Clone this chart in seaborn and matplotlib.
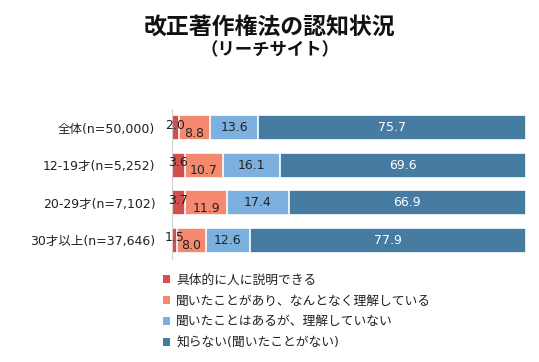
import matplotlib
matplotlib.use("Agg")
import matplotlib.pyplot as plt
import seaborn as sns
import numpy as np
import pandas as pd
from matplotlib.patches import Patch

# data
groups = ["全体(n=50,000)", "12-19才(n=5,252)", "20-29才(n=7,102)", "30才以上(n=37,646)"]
series = ["具体的に人に説明できる", "聞いたことがあり、なんとなく理解している",
          "聞いたことはあるが、理解していない", "知らない(聞いたことがない)"]
explain = [2.0, 3.6, 3.7, 1.5]
vaguely = [8.8, 10.7, 11.9, 8.0]
heard = [13.6, 16.1, 17.4, 12.6]
unknown = [75.7, 69.6, 66.9, 77.9]

colors = ["#D44E4E", "#F4896F", "#7CB0DF", "#467BA2"]

sns.set_theme(style="white")
# Verdana-like latin glyphs, CJK fallback
plt.rcParams["font.family"] = ["DejaVu Sans", "Noto Sans CJK JP"]

df = pd.DataFrame({"group": groups, series[0]: explain, series[1]: vaguely,
                   series[2]: heard, series[3]: unknown})
vals = df[series].to_numpy()
cum = vals.cumsum(axis=1)

fig = plt.figure(figsize=(5.39, 3.62), dpi=100)
ax = fig.add_axes([0.319, 0.2845, 0.657, 0.414])

# stacked bars: draw cumulative totals from the back
for k in range(len(series) - 1, -1, -1):
    d = pd.DataFrame({"group": groups, "v": cum[:, k]})
    sns.barplot(data=d, x="v", y="group", orient="h", color=colors[k],
                saturation=1, width=0.67, edgecolor="white", linewidth=1.2, ax=ax)

# value labels
for i in range(len(groups)):
    for k in range(len(series)):
        start = cum[i, k] - vals[i, k]
        xc = start + vals[i, k] / 2
        dy = 0
        if k == 0:
            dy = 2.0
        elif k == 1:
            dy = -4.0
        ax.annotate(f"{vals[i, k]:.1f}", (xc, i), xytext=(0, dy), textcoords="offset points",
                    ha="center", va="center", fontsize=9,
                    color="white" if k == 3 else "#222222")

ax.set_xlim(0, 100)
ax.set_ylim(3.5, -0.5)
ax.set_xlabel("")
ax.set_ylabel("")
ax.set_xticks([])
ax.tick_params(axis="y", length=0, pad=12, labelsize=9, labelcolor="#222222")
for s in ["top", "right", "bottom"]:
    ax.spines[s].set_visible(False)
ax.spines["left"].set_color("#D0D0D0")
ax.spines["left"].set_linewidth(0.8)

fig.text(0.5, 0.925, "改正著作権法の認知状況", ha="center", va="center",
         fontsize=16.5, fontweight="bold", color="#111111", family="Noto Sans CJK JP")
fig.text(0.5, 0.862, "（リーチサイト）", ha="center", va="center",
         fontsize=12.5, fontweight="bold", color="#111111", family="Noto Sans CJK JP")

handles = [Patch(facecolor=c, edgecolor="none") for c in colors]
fig.legend(handles, series, loc="upper left", bbox_to_anchor=(0.29, 0.262),
           frameon=False, fontsize=9.2, handlelength=0.6, handleheight=0.6,
           handletextpad=0.45, labelspacing=0.62, borderpad=0, labelcolor="#222222")

plt.savefig("out.png", dpi=100)
plt.close()
